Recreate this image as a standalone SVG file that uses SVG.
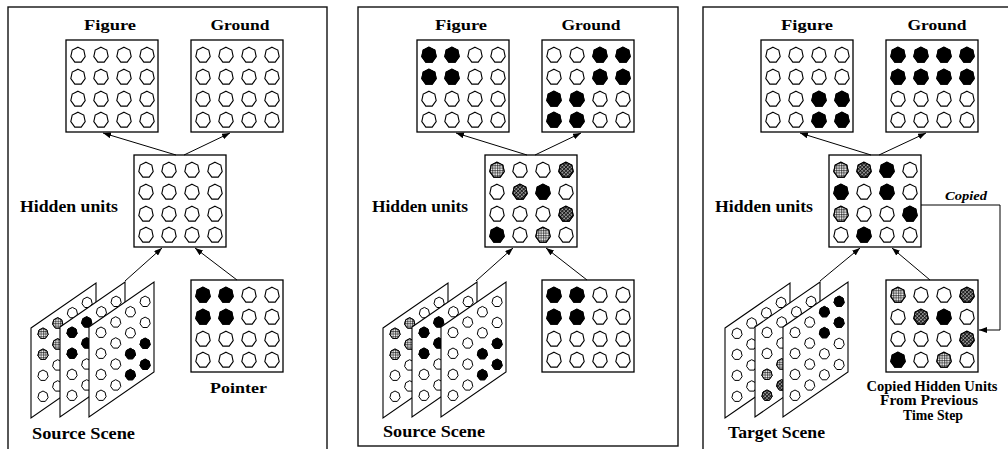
<svg xmlns="http://www.w3.org/2000/svg" xmlns:xlink="http://www.w3.org/1999/xlink" width="1008" height="449" viewBox="0 0 1008 449">
<style>
.frame{fill:#fff;stroke:#111;stroke-width:1.4}
.lb{font-family:"Liberation Serif","DejaVu Serif","Times New Roman",serif;font-weight:bold;font-size:15px;fill:#000}
.l16{font-size:16px}
.l14{font-size:14px}
.it{font-family:"Liberation Serif","DejaVu Serif","Times New Roman",serif;font-weight:bold;font-style:italic;font-size:13px;fill:#000}
.b{fill:#000;stroke:#000}
.g{fill:url(#pg);stroke:#000}
.x{fill:url(#px);stroke:#000}
.conn path{fill:none;stroke:#000;stroke-width:1;marker-end:url(#ah)}
</style>
<defs>
<pattern id="pg" width="2.4" height="2.4" patternUnits="userSpaceOnUse"><rect width="2.4" height="2.4" fill="#fff"/><path d="M0 0.6H2.4M0.6 0V2.4" stroke="#000" stroke-width="0.6"/></pattern>
<pattern id="px" width="2.6" height="2.6" patternUnits="userSpaceOnUse" patternTransform="rotate(45)"><rect width="2.6" height="2.6" fill="#bbb"/><path d="M0 0.6H2.6M0.6 0V2.6" stroke="#000" stroke-width="0.9"/></pattern>
<marker id="ah" viewBox="0 0 8 6" refX="8" refY="3" markerWidth="8" markerHeight="6" markerUnits="userSpaceOnUse" orient="auto"><path d="M0,0L8,3L0,6z" fill="#000"/></marker>
<polygon id="u" points="0,-7.8 5.8,-4.9 7.2,1.7 3.2,7.1 -3.2,7.1 -7.2,1.7 -5.8,-4.9" stroke-width="1.1"/>
<polygon id="d" points="0,-5.5 4,-3.4 5.1,1.2 2.3,4.9 -2.3,4.9 -5.1,1.2 -4,-3.4" stroke-width="1"/>
<g id="grid">
<rect width="92" height="92" fill="#fff" stroke="#000" stroke-width="1.3"/>
<g fill="#fff" stroke="#000">
<use href="#u" x="12" y="15"/><use href="#u" x="35" y="15"/><use href="#u" x="58" y="15"/><use href="#u" x="81" y="15"/>
<use href="#u" x="12" y="37"/><use href="#u" x="35" y="37"/><use href="#u" x="58" y="37"/><use href="#u" x="81" y="37"/>
<use href="#u" x="12" y="59"/><use href="#u" x="35" y="59"/><use href="#u" x="58" y="59"/><use href="#u" x="81" y="59"/>
<use href="#u" x="12" y="80"/><use href="#u" x="35" y="80"/><use href="#u" x="58" y="80"/><use href="#u" x="81" y="80"/>
</g>
</g>
<g id="plane">
<polygon points="0,0 65,-45 65,45 0,90" fill="#fff" stroke="#000" stroke-width="1.1"/>
<g fill="#fff" stroke="#000">
<use href="#d" x="12" y="5.5"/><use href="#d" x="12" y="26.5"/><use href="#d" x="12" y="47.5"/><use href="#d" x="12" y="68.5"/>
<use href="#d" x="26.7" y="-4.8"/><use href="#d" x="26.7" y="16.2"/><use href="#d" x="26.7" y="37.2"/><use href="#d" x="26.7" y="58.2"/>
<use href="#d" x="41.4" y="-15.1"/><use href="#d" x="41.4" y="5.9"/><use href="#d" x="41.4" y="26.9"/><use href="#d" x="41.4" y="47.9"/>
<use href="#d" x="56.1" y="-25.4"/><use href="#d" x="56.1" y="-4.4"/><use href="#d" x="56.1" y="16.6"/><use href="#d" x="56.1" y="37.6"/>
</g>
</g>
</defs>
<rect width="1008" height="449" fill="#fff"/>

<g id="panel1">
<rect class="frame" x="8" y="7" width="319" height="446"/>
<g id="p1-figure"><text class="lb" x="110" y="30" text-anchor="middle" textLength="52" lengthAdjust="spacingAndGlyphs">Figure</text><use href="#grid" x="66" y="40"/></g>
<g id="p1-ground"><text class="lb" x="240" y="30" text-anchor="middle" textLength="59" lengthAdjust="spacingAndGlyphs">Ground</text><use href="#grid" x="191" y="40"/></g>
<g id="p1-hidden"><text class="lb l16" x="20" y="212" textLength="98" lengthAdjust="spacingAndGlyphs">Hidden units</text><use href="#grid" x="134" y="155"/></g>
<g id="p1-pointer"><use href="#grid" x="191" y="280"/>
<use href="#u" class="b" x="203" y="295"/><use href="#u" class="b" x="226" y="295"/><use href="#u" class="b" x="203" y="317"/><use href="#u" class="b" x="226" y="317"/>
<text class="lb" x="210" y="393" textLength="57" lengthAdjust="spacingAndGlyphs">Pointer</text></g>
<g id="p1-scene">
<use href="#plane" x="31" y="328"/>
<use href="#d" class="g" x="43" y="333.5"/><use href="#d" class="g" x="43" y="354.5"/><use href="#d" class="g" x="57.7" y="323.2"/><use href="#d" class="g" x="57.7" y="344.2"/>
<use href="#plane" x="60" y="327"/>
<use href="#d" class="b" x="72" y="332.5"/><use href="#d" class="b" x="72" y="353.5"/><use href="#d" class="b" x="86.7" y="322.2"/><use href="#d" class="b" x="86.7" y="343.2"/>
<use href="#plane" x="89" y="327"/>
<use href="#d" class="b" x="130.4" y="353.9"/><use href="#d" class="b" x="145.1" y="343.6"/><use href="#d" class="b" x="130.4" y="374.9"/><use href="#d" class="b" x="145.1" y="364.6"/>
<text class="lb l16" x="32" y="439" textLength="103" lengthAdjust="spacingAndGlyphs">Source Scene</text>
</g>
</g>

<g id="panel2" transform="translate(351,0)">
<rect class="frame" x="7" y="7" width="320" height="439"/>
<g id="p2-figure"><text class="lb" x="110" y="30" text-anchor="middle" textLength="52" lengthAdjust="spacingAndGlyphs">Figure</text><use href="#grid" x="66" y="40"/>
<use href="#u" class="b" x="78" y="55"/><use href="#u" class="b" x="101" y="55"/><use href="#u" class="b" x="78" y="77"/><use href="#u" class="b" x="101" y="77"/></g>
<g id="p2-ground"><text class="lb" x="240" y="30" text-anchor="middle" textLength="59" lengthAdjust="spacingAndGlyphs">Ground</text><use href="#grid" x="191" y="40"/>
<use href="#u" class="b" x="249" y="55"/><use href="#u" class="b" x="272" y="55"/><use href="#u" class="b" x="249" y="77"/><use href="#u" class="b" x="272" y="77"/>
<use href="#u" class="b" x="203" y="99"/><use href="#u" class="b" x="226" y="99"/><use href="#u" class="b" x="203" y="120"/><use href="#u" class="b" x="226" y="120"/></g>
<g id="p2-hidden"><text class="lb l16" x="21" y="212" textLength="96" lengthAdjust="spacingAndGlyphs">Hidden units</text><use href="#grid" x="134" y="155"/>
<use href="#u" class="g" x="146" y="170"/><use href="#u" class="x" x="215" y="170"/><use href="#u" class="x" x="169" y="192"/><use href="#u" class="b" x="192" y="192"/>
<use href="#u" class="x" x="215" y="214"/><use href="#u" class="b" x="146" y="235"/><use href="#u" class="g" x="192" y="235"/></g>
<g id="p2-pointer"><use href="#grid" x="191" y="280"/>
<use href="#u" class="b" x="203" y="295"/><use href="#u" class="b" x="226" y="295"/><use href="#u" class="b" x="203" y="317"/><use href="#u" class="b" x="226" y="317"/></g>
<g id="p2-scene">
<use href="#plane" x="32" y="328"/>
<use href="#d" class="g" x="44" y="333.5"/><use href="#d" class="g" x="44" y="354.5"/><use href="#d" class="g" x="58.7" y="323.2"/><use href="#d" class="g" x="58.7" y="344.2"/>
<use href="#plane" x="61" y="327"/>
<use href="#d" class="b" x="73" y="332.5"/><use href="#d" class="b" x="73" y="353.5"/><use href="#d" class="b" x="87.7" y="322.2"/><use href="#d" class="b" x="87.7" y="343.2"/>
<use href="#plane" x="90" y="327"/>
<use href="#d" class="b" x="131.4" y="353.9"/><use href="#d" class="b" x="146.1" y="343.6"/><use href="#d" class="b" x="131.4" y="374.9"/><use href="#d" class="b" x="146.1" y="364.6"/>
<text class="lb l16" x="32" y="437" textLength="102" lengthAdjust="spacingAndGlyphs">Source Scene</text>
</g>
</g>

<g id="panel3" transform="translate(695,0)">
<rect class="frame" x="8" y="7" width="330" height="446"/>
<g id="p3-figure"><text class="lb" x="112" y="30" text-anchor="middle" textLength="52" lengthAdjust="spacingAndGlyphs">Figure</text><use href="#grid" x="66" y="40"/>
<use href="#u" class="b" x="124" y="99"/><use href="#u" class="b" x="147" y="99"/><use href="#u" class="b" x="124" y="120"/><use href="#u" class="b" x="147" y="120"/></g>
<g id="p3-ground"><text class="lb" x="242" y="30" text-anchor="middle" textLength="59" lengthAdjust="spacingAndGlyphs">Ground</text><use href="#grid" x="191" y="40"/>
<use href="#u" class="b" x="203" y="55"/><use href="#u" class="b" x="226" y="55"/><use href="#u" class="b" x="249" y="55"/><use href="#u" class="b" x="272" y="55"/>
<use href="#u" class="b" x="203" y="77"/><use href="#u" class="b" x="226" y="77"/><use href="#u" class="b" x="249" y="77"/><use href="#u" class="b" x="272" y="77"/></g>
<g id="p3-hidden"><text class="lb l16" x="20" y="212" textLength="98" lengthAdjust="spacingAndGlyphs">Hidden units</text><use href="#grid" x="134" y="155"/>
<use href="#u" class="g" x="146" y="170"/><use href="#u" class="x" x="169" y="170"/><use href="#u" class="b" x="192" y="170"/>
<use href="#u" class="b" x="146" y="192"/><use href="#u" class="b" x="192" y="192"/>
<use href="#u" class="g" x="146" y="214"/><use href="#u" class="b" x="215" y="214"/>
<use href="#u" class="b" x="169" y="235"/></g>
<g id="p3-copied"><use href="#grid" x="191" y="280"/>
<use href="#u" class="g" x="203" y="295"/><use href="#u" class="x" x="272" y="295"/><use href="#u" class="x" x="226" y="317"/><use href="#u" class="b" x="249" y="317"/>
<use href="#u" class="x" x="272" y="339"/><use href="#u" class="b" x="203" y="360"/><use href="#u" class="g" x="249" y="360"/>
<text class="lb l14" x="237" y="391" text-anchor="middle" textLength="131" lengthAdjust="spacingAndGlyphs">Copied Hidden Units</text>
<text class="lb l14" x="234" y="405" text-anchor="middle" textLength="98" lengthAdjust="spacingAndGlyphs">From Previous</text>
<text class="lb l14" x="238" y="420" text-anchor="middle" textLength="60" lengthAdjust="spacingAndGlyphs">Time Step</text></g>
<g id="p3-scene">
<use href="#plane" x="30" y="328"/>
<use href="#plane" x="60" y="327"/>
<use href="#d" class="g" x="72" y="374.5"/><use href="#d" class="x" x="72" y="395.5"/><use href="#d" class="g" x="86.7" y="364.2"/><use href="#d" class="x" x="86.7" y="385.2"/>
<use href="#plane" x="88" y="327"/>
<use href="#d" class="b" x="129.4" y="311.9"/><use href="#d" class="b" x="144.1" y="301.6"/><use href="#d" class="b" x="129.4" y="332.9"/><use href="#d" class="b" x="144.1" y="322.6"/>
<text class="lb l16" x="33" y="438" textLength="97" lengthAdjust="spacingAndGlyphs">Target Scene</text>
</g>
<text class="it" x="250" y="200" textLength="42" lengthAdjust="spacingAndGlyphs">Copied</text>
</g>

<g id="connectors" class="conn">
<path d="M176,155 L103,133"/>
<path d="M184,155 L230,133"/>
<path d="M125,281 L162,248"/>
<path d="M237,280 L195,248"/>
<path d="M527,155 L456,133"/>
<path d="M535,155 L581,133"/>
<path d="M476,281 L513,248"/>
<path d="M587,280 L546,248"/>
<path d="M871,155 L800,133"/>
<path d="M879,155 L926,133"/>
<path d="M820,281 L860,248"/>
<path d="M930,280 L892,248"/>
<path d="M921,205 H1000 V330 H979"/>
</g>
</svg>
